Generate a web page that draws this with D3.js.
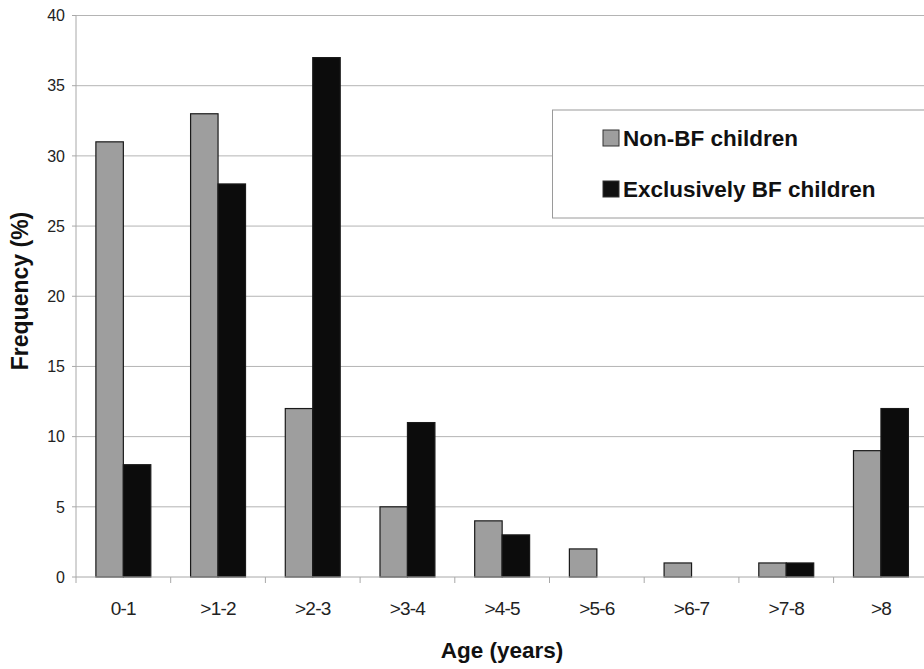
<!DOCTYPE html>
<html>
<head>
<meta charset="utf-8">
<script src="https://cdn.jsdelivr.net/npm/d3@7"></script>
<style>
  body { margin: 0; background: #fff; }
  svg { display: block; font-family: Arial, "Liberation Sans", sans-serif; }
</style>
</head>
<body>
<div id="viz"></div>
<script>
var ages = ["0-1", ">1-2", ">2-3", ">3-4", ">4-5", ">5-6", ">6-7", ">7-8", ">8"];
var nonBF = [31, 33, 12, 5, 4, 2, 1, 1, 9];
var exclBF = [8, 28, 37, 11, 3, 0, 0, 1, 12];
var seriesNames = ["Non-BF children", "Exclusively BF children"];
var yTicks = [0, 5, 10, 15, 20, 25, 30, 35, 40];

var W = 924, H = 669;
var margin = {top: 15.5, left: 76, bottom: 92};
var plotW = 94.7 * ages.length;
var plotH = H - margin.top - margin.bottom;

var svg = d3.select("#viz")
    .append("svg")
    .attr("width", W)
    .attr("height", H);

var g = svg.append("g")
    .attr("transform", "translate(" + margin.left + "," + margin.top + ")");

var x = d3.scaleBand()
    .domain(ages)
    .range([0, plotW])
    .paddingInner(0.42)
    .paddingOuter(0.21);

var x1 = d3.scaleBand()
    .domain([0, 1])
    .range([0, x.bandwidth()]);

var y = d3.scaleLinear()
    .domain([0, 40])
    .range([plotH, 0]);

// gridlines
g.selectAll(".grid")
    .data(yTicks.slice(1))
    .enter().append("line")
    .attr("x1", 0)
    .attr("x2", W)
    .attr("y1", function (d) { return y(d); })
    .attr("y2", function (d) { return y(d); })
    .attr("stroke", "#b4b4b4")
    .attr("stroke-width", 1);

// y axis line and labels
g.append("line")
    .attr("x1", 0).attr("x2", 0)
    .attr("y1", 0).attr("y2", plotH)
    .attr("stroke", "#a8a8a8");

g.selectAll(".ytick")
    .data(yTicks)
    .enter().append("line")
    .attr("x1", -4).attr("x2", 0)
    .attr("y1", function (d) { return y(d); })
    .attr("y2", function (d) { return y(d); })
    .attr("stroke", "#a8a8a8");

g.selectAll(".ylab")
    .data(yTicks)
    .enter().append("text")
    .attr("x", -11)
    .attr("y", function (d) { return y(d); })
    .attr("dy", "0.36em")
    .attr("text-anchor", "end")
    .attr("font-size", 16)
    .attr("fill", "#222")
    .text(function (d) { return d; });

// bars
var groups = g.selectAll(".grp")
    .data(ages)
    .enter().append("g")
    .attr("transform", function (d) { return "translate(" + x(d) + ",0)"; });

groups.each(function (d, i) {
    var vals = [nonBF[i], exclBF[i]];
    d3.select(this).selectAll("rect")
        .data(vals)
        .enter().append("rect")
        .filter(function (v) { return v > 0; })
        .attr("x", function (v, j) { return x1(j); })
        .attr("width", x1.bandwidth())
        .attr("y", function (v) { return y(v); })
        .attr("height", function (v) { return y(0) - y(v); })
        .attr("fill", function (v, j) { return j === 0 ? "#9e9e9e" : "#0c0c0c"; })
        .attr("stroke", "#1a1a1a")
        .attr("stroke-width", 1.2);
});

// x axis
g.append("line")
    .attr("x1", 0).attr("x2", W)
    .attr("y1", plotH).attr("y2", plotH)
    .attr("stroke", "#a8a8a8");

g.selectAll(".xtick")
    .data(d3.range(ages.length + 1))
    .enter().append("line")
    .attr("x1", function (i) { return i * x.step(); })
    .attr("x2", function (i) { return i * x.step(); })
    .attr("y1", plotH).attr("y2", plotH + 6)
    .attr("stroke", "#a8a8a8");

g.selectAll(".xlab")
    .data(ages)
    .enter().append("text")
    .attr("x", function (d) { return x(d) + x.bandwidth() / 2; })
    .attr("y", plotH + 38)
    .attr("text-anchor", "middle")
    .attr("font-size", 19)
    .attr("letter-spacing", "-0.8")
    .attr("fill", "#222")
    .text(function (d) { return d; });

// axis titles
svg.append("text")
    .attr("x", 502)
    .attr("y", 658)
    .attr("text-anchor", "middle")
    .attr("font-size", 22.5)
    .attr("font-weight", "bold")
    .attr("fill", "#111")
    .text("Age (years)");

svg.append("text")
    .attr("transform", "translate(28,291) rotate(-90)")
    .attr("text-anchor", "middle")
    .attr("font-size", 23)
    .attr("font-weight", "bold")
    .attr("fill", "#111")
    .text("Frequency (%)");

// legend
var legend = svg.append("g");
legend.append("rect")
    .attr("x", 552.5).attr("y", 110)
    .attr("width", 400).attr("height", 108)
    .attr("fill", "#fff")
    .attr("stroke", "#9a9a9a");

var items = legend.selectAll(".item")
    .data(seriesNames)
    .enter().append("g")
    .attr("transform", function (d, i) { return "translate(603," + (130 + i * 51) + ")"; });

items.append("rect")
    .attr("width", 16).attr("height", 16)
    .attr("fill", function (d, i) { return i === 0 ? "#9e9e9e" : "#111"; })
    .attr("stroke", "#333");

items.append("text")
    .attr("x", 20)
    .attr("y", 16)
    .attr("font-size", 22.5)
    .attr("font-weight", "bold")
    .attr("fill", "#111")
    .text(function (d) { return d; });
</script>
</body>
</html>
